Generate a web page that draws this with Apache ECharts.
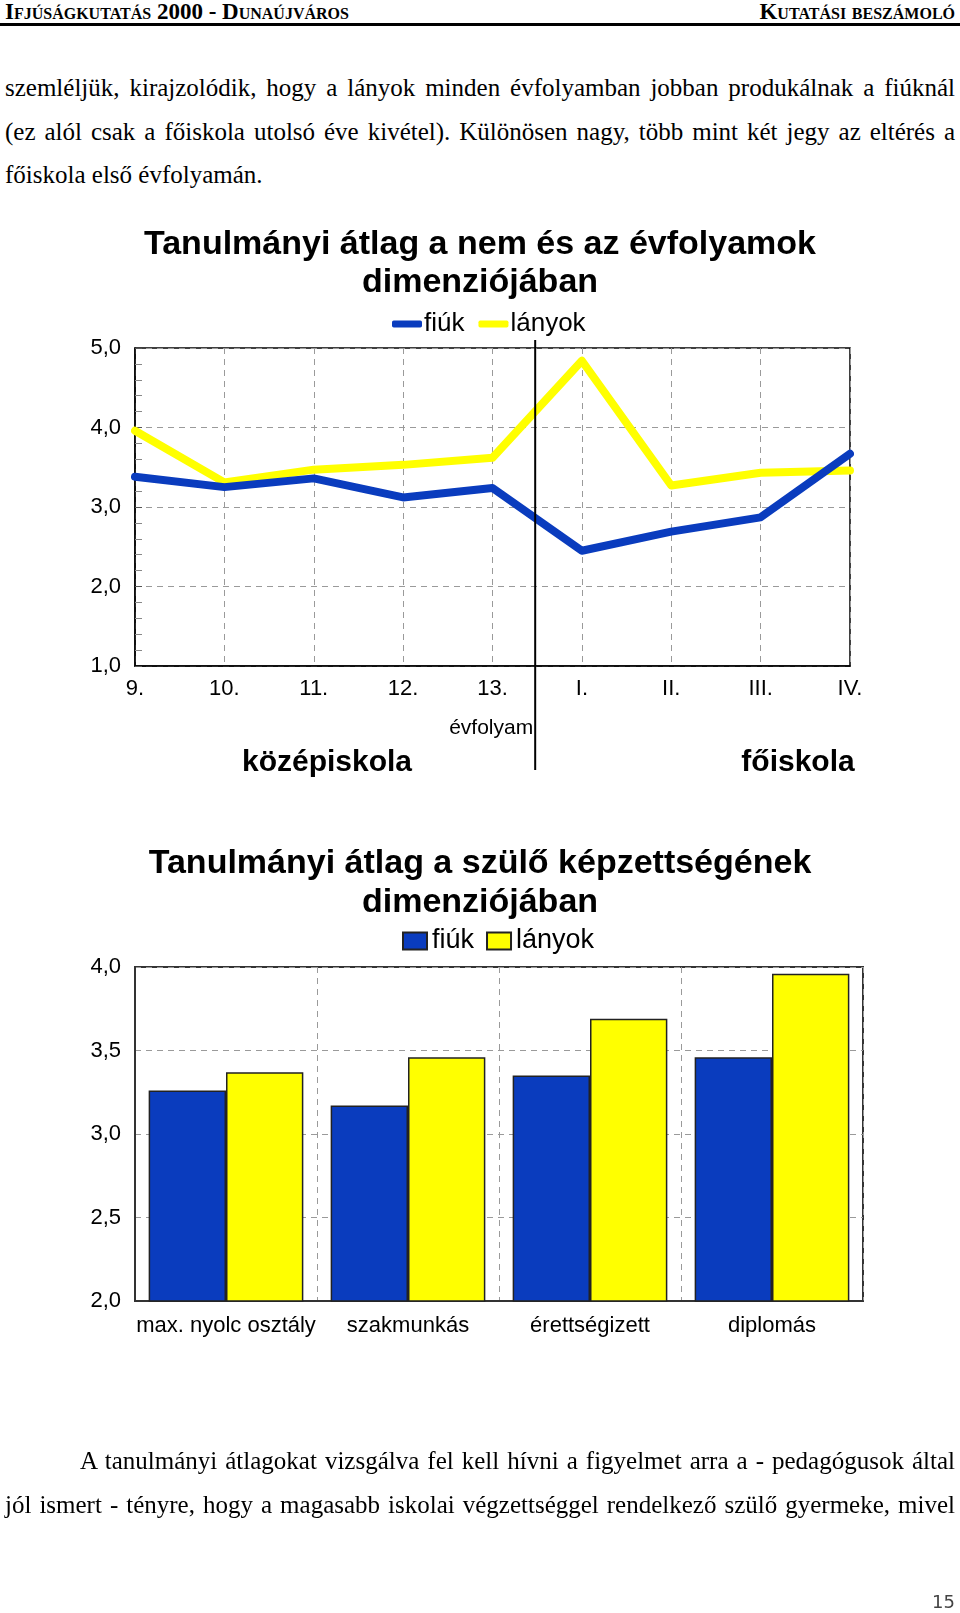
<!DOCTYPE html>
<html>
<head>
<meta charset="utf-8">
<script src="https://cdn.jsdelivr.net/npm/echarts@6/dist/echarts.min.js"></script>
<style>
  html, body { margin:0; padding:0; background:#fff; }
  body { width:960px; height:1613px; position:relative; overflow:hidden; }
  .abs { position:absolute; }
  .hdr { font-family:'Liberation Serif', serif; font-weight:bold; font-size:23px; font-variant:small-caps; line-height:24px; color:#000; white-space:nowrap; }
  .para { font-family:'Liberation Serif', serif; font-size:25px; line-height:30px; color:#000; white-space:nowrap; }
  .just { text-align:justify; text-align-last:justify; white-space:normal; }
</style>
</head>
<body>
<div class="abs hdr" style="left:5px;top:0px;">Ifjúságkutatás 2000 - Dunaújváros</div>
<div class="abs hdr" style="right:5px;top:0px;">Kutatási beszámoló</div>
<div class="abs" style="left:0;top:23px;width:960px;height:2.5px;background:#000;"></div>

<div class="abs para just" style="left:5px;top:73px;width:950px;">szemléljük, kirajzolódik, hogy a lányok minden évfolyamban jobban produkálnak a fiúknál</div>
<div class="abs para just" style="left:5px;top:117px;width:950px;">(ez alól csak a főiskola utolsó éve kivétel). Különösen nagy, több mint két jegy az eltérés a</div>
<div class="abs para" style="left:5px;top:160px;">főiskola első évfolyamán.</div>

<div id="chart1" class="abs" style="left:0;top:0;width:960px;height:800px;"></div>
<div id="chart2" class="abs" style="left:0;top:800px;width:960px;height:813px;"></div>

<div class="abs para just" style="left:80px;top:1446px;width:875px;">A tanulmányi átlagokat vizsgálva fel kell hívni a figyelmet arra a - pedagógusok által</div>
<div class="abs para just" style="left:5px;top:1490px;width:950px;">jól ismert - tényre, hogy a magasabb iskolai végzettséggel rendelkező szülő gyermeke, mivel</div>
<div class="abs" style="right:5px;top:1590px;font-family:'DejaVu Sans',sans-serif;font-size:18px;line-height:24px;color:#444;">15</div>

<script>
// ---- data ----
const lineCategories = ['9.', '10.', '11.', '12.', '13.', 'I.', 'II.', 'III.', 'IV.'];
const fiukLine = [3.38, 3.25, 3.36, 3.12, 3.24, 2.45, 2.69, 2.87, 3.67];
const lanyokLine = [3.96, 3.31, 3.47, 3.53, 3.62, 4.84, 3.27, 3.43, 3.46];

const barCategories = ['max. nyolc osztály', 'szakmunkás', 'érettségizett', 'diplomás'];
const fiukBar = [3.26, 3.17, 3.35, 3.46];
const lanyokBar = [3.37, 3.46, 3.69, 3.96];

const seriesNames = ['fiúk', 'lányok'];
const title1 = 'Tanulmányi átlag a nem és az évfolyamok\ndimenziójában';
const title2 = 'Tanulmányi átlag a szülő képzettségének\ndimenziójában';
const xName1 = 'évfolyam';
const groupLabels = ['középiskola', 'főiskola'];

// ---- styles ----
const FONT = 'Liberation Sans, Arial, sans-serif';
const BLUE = '#0a3cbe';
const YELLOW = '#ffff00';
const fmt = v => v.toFixed(1).replace('.', ',');
const dashed = { show: true, lineStyle: { color: '#9a9a9a', type: [6, 5], width: 1 } };

// ---- chart 1: line ----
const c1 = echarts.init(document.getElementById('chart1'), null, { renderer: 'canvas' });
c1.setOption({
  animation: false,
  title: {
    text: title1, left: 'center', top: 226, padding: 0,
    textStyle: { fontFamily: FONT, fontSize: 34, fontWeight: 'bold', lineHeight: 38, color: '#000' }
  },
  legend: {
    left: 392, top: 310, padding: 0, itemWidth: 30, itemHeight: 7, itemGap: 14,
    icon: 'roundRect',
    data: seriesNames,
    textStyle: { fontFamily: FONT, fontSize: 26, lineHeight: 28, color: '#000', padding: [0, 0, 0, -3] }
  },
  grid: { left: 135, top: 348, width: 715, height: 318, show: true, borderColor: '#000', borderWidth: 1.5, containLabel: false },
  xAxis: {
    type: 'category', data: lineCategories, boundaryGap: false,
    axisLine: { lineStyle: { color: '#000', width: 1.5 } },
    axisTick: { show: false },
    axisLabel: { fontFamily: FONT, fontSize: 22, color: '#000', margin: 12 },
    splitLine: dashed
  },
  yAxis: {
    type: 'value', min: 1, max: 5, interval: 1,
    axisLine: { show: true, lineStyle: { color: '#000', width: 1.5 } },
    axisTick: { show: true, inside: true, length: 7, lineStyle: { color: '#555' } },
    minorTick: { show: true, splitNumber: 5, length: 7, lineStyle: { color: '#888' } },
    axisLabel: { fontFamily: FONT, fontSize: 22, color: '#000', margin: 14, formatter: fmt },
    splitLine: dashed
  },
  series: [
    { name: seriesNames[0], type: 'line', data: fiukLine, symbol: 'none', color: BLUE,
      lineStyle: { width: 8, color: BLUE, cap: 'round', join: 'round' }, z: 3 },
    { name: seriesNames[1], type: 'line', data: lanyokLine, symbol: 'none', color: YELLOW,
      lineStyle: { width: 8, color: YELLOW, cap: 'round', join: 'round' }, z: 2 }
  ]
});
// divider between the two school groups, placed from the axis scale
const xa = c1.convertToPixel({ gridIndex: 0 }, [lineCategories[4], 5]);
const xb = c1.convertToPixel({ gridIndex: 0 }, [lineCategories[5], 5]);
const yBottom = c1.convertToPixel({ gridIndex: 0 }, [lineCategories[0], 1])[1];
const divX = (xa[0] + xb[0]) / 2 - 2;
c1.setOption({
  graphic: [
    { type: 'line', shape: { x1: divX, y1: xa[1] - 8, x2: divX, y2: yBottom + 104 },
      style: { stroke: '#000', lineWidth: 2 }, z: 10 },
    { type: 'text', x: divX - 2, y: yBottom + 62,
      style: { text: xName1, fontFamily: FONT, fontSize: 21, fill: '#000', align: 'right', verticalAlign: 'middle' } },
    { type: 'text', x: 327, y: yBottom + 97,
      style: { text: groupLabels[0], fontFamily: FONT, fontSize: 30, fontWeight: 'bold', fill: '#000', align: 'center', verticalAlign: 'middle' } },
    { type: 'text', x: 798, y: yBottom + 97,
      style: { text: groupLabels[1], fontFamily: FONT, fontSize: 30, fontWeight: 'bold', fill: '#000', align: 'center', verticalAlign: 'middle' } }
  ]
});

// ---- chart 2: bar ----
const c2 = echarts.init(document.getElementById('chart2'), null, { renderer: 'canvas' });
c2.setOption({
  animation: false,
  title: {
    text: title2, left: 'center', top: 44, padding: 0,
    textStyle: { fontFamily: FONT, fontSize: 34, fontWeight: 'bold', lineHeight: 39, color: '#000' }
  },
  legend: {
    left: 402, top: 127, padding: 0, itemWidth: 24, itemHeight: 17, itemGap: 12,
    icon: 'rect',
    data: seriesNames,
    textStyle: { fontFamily: FONT, fontSize: 27, lineHeight: 28, color: '#000' }
  },
  grid: { left: 135, top: 167, width: 728, height: 334, show: true, borderColor: '#333', borderWidth: 2, containLabel: false },
  xAxis: {
    type: 'category', data: barCategories,
    axisLine: { lineStyle: { color: '#333', width: 2 } },
    axisTick: { show: false },
    axisLabel: { fontFamily: FONT, fontSize: 22, color: '#000', margin: 14, interval: 0 },
    splitLine: dashed
  },
  yAxis: {
    type: 'value', min: 2, max: 4, interval: 0.5,
    axisLine: { show: true, lineStyle: { color: '#333', width: 2 } },
    axisTick: { show: false },
    axisLabel: { fontFamily: FONT, fontSize: 22, color: '#000', margin: 14, formatter: fmt },
    splitLine: dashed
  },
  series: [
    { name: seriesNames[0], type: 'bar', data: fiukBar, barGap: '0%', barCategoryGap: '15%',
      itemStyle: { color: BLUE, borderColor: '#222', borderWidth: 1.5 } },
    { name: seriesNames[1], type: 'bar', data: lanyokBar, barGap: '0%', barCategoryGap: '15%',
      itemStyle: { color: YELLOW, borderColor: '#222', borderWidth: 1.5 } }
  ]
});
</script>
</body>
</html>
